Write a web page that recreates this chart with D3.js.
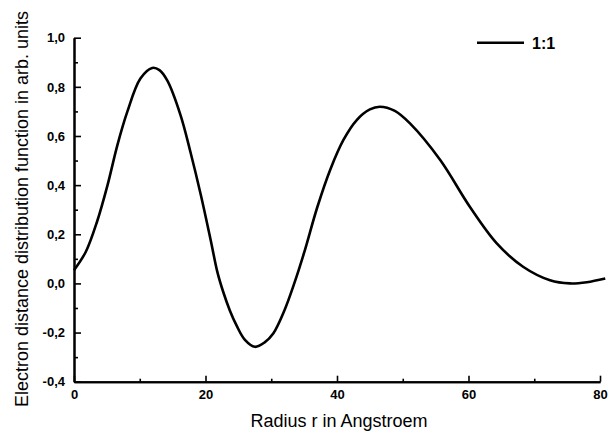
<!DOCTYPE html>
<html>
  <head>
    <meta charset="utf-8">
    <title>Electron distance distribution</title>
    <script src="https://cdn.jsdelivr.net/npm/d3@7"></script>
    <style>
      body { margin: 0; background: #fff; }
      .curve { fill: none; stroke: #000; stroke-width: 2.6px; }
      .axis path, .axis line { stroke: #000; }
      .axis path { stroke-width: 2px; }
      .axis line { stroke-width: 1.6px; }
      .axis text { font-family: 'Liberation Sans', Arial, sans-serif; font-size: 13px; font-weight: bold; fill: #000; }
      .title { font-family: 'Liberation Sans', Arial, sans-serif; font-size: 18px; fill: #000; }
      .legend { font-family: 'Liberation Sans', Arial, sans-serif; font-size: 16px; font-weight: bold; fill: #000; }
    </style>
  </head>
  <body>
    <script>

      // curve: radius (Angstroem) and value (arb. units)
      var radius = [0, 1.8, 3.5, 5.1, 6.6, 8.1, 10.1, 11.9, 13.0, 14.2, 16.2, 17.7, 19.3, 20.8, 21.8, 22.7, 23.7, 24.7, 26, 27.5,
                    29, 30.3, 32.0, 33.5, 35, 37, 39, 41, 43, 45, 46.5, 48.8, 51.1, 55.7,
                    60.2, 64.3, 68.3, 72.4, 75.4, 78, 80.8];
      var values = [0.054, 0.129, 0.251, 0.40, 0.563, 0.698, 0.834, 0.877, 0.868, 0.825, 0.685, 0.536, 0.359, 0.175, 0.047, -0.035, -0.11, -0.17, -0.23, -0.258,
                    -0.24, -0.204, -0.11, 0.0, 0.125, 0.31, 0.465, 0.585, 0.665, 0.708, 0.719, 0.702, 0.651, 0.502,
                    0.312, 0.163, 0.068, 0.013, 0.0, 0.005, 0.02];

      var xTicks = [0, 20, 40, 60, 80];
      var xMinor = [10, 30, 50, 70];
      var yTicks = [-0.4, -0.2, 0.0, 0.2, 0.4, 0.6, 0.8, 1.0];
      var yMinor = [-0.3, -0.1, 0.1, 0.3, 0.5, 0.7, 0.9];

      var seriesName = "1:1";
      var xTitle = "Radius r in Angstroem";
      var yTitle = "Electron distance distribution function in arb. units";

      var width = 610, height = 432;
      var plotLeft = 74, plotRight = 600, plotTop = 37.7, plotBottom = 381.7;

      var svg = d3.select("body").append("svg")
        .attr("width", width)
        .attr("height", height);

      var xScale = d3.scaleLinear().domain([0, 80]).range([plotLeft, plotRight]);
      var yScale = d3.scaleLinear().domain([-0.4, 1.0]).range([plotBottom, plotTop]);

      // comma as decimal sign, plain hyphen for minus
      var fmt = d3.formatLocale({ decimal: ",", thousands: ".", grouping: [3], currency: ["", ""], minus: "-" })
        .format(".1f");

      // minor ticks first, no labels
      svg.append("g")
        .attr("class", "axis")
        .attr("transform", "translate(0," + plotBottom + ")")
        .call(d3.axisBottom(xScale).tickValues(xMinor).tickSizeInner(-3).tickSizeOuter(0).tickFormat(""));

      svg.append("g")
        .attr("class", "axis")
        .attr("transform", "translate(" + plotLeft + ",0)")
        .call(d3.axisLeft(yScale).tickValues(yMinor).tickSizeInner(-4).tickSizeOuter(0).tickFormat(""));

      svg.append("g")
        .attr("class", "axis")
        .attr("transform", "translate(0," + plotBottom + ")")
        .call(d3.axisBottom(xScale).tickValues(xTicks).tickSizeInner(-6).tickSizeOuter(0).tickPadding(8)
          .tickFormat(d3.format("d")));

      svg.append("g")
        .attr("class", "axis")
        .attr("transform", "translate(" + plotLeft + ",0)")
        .call(d3.axisLeft(yScale).tickValues(yTicks).tickSizeInner(-7).tickSizeOuter(0).tickPadding(9)
          .tickFormat(fmt));

      // the curve
      var line = d3.line()
        .x(function(d, i) { return xScale(radius[i]); })
        .y(function(d) { return yScale(d); })
        .curve(d3.curveCatmullRom.alpha(0.5));

      svg.append("path")
        .datum(values)
        .attr("class", "curve")
        .attr("d", line);

      // legend
      svg.append("line")
        .attr("x1", 477).attr("x2", 524)
        .attr("y1", 42.7).attr("y2", 42.7)
        .attr("stroke", "#000")
        .attr("stroke-width", 2.6);
      svg.append("text")
        .attr("class", "legend")
        .attr("x", 532)
        .attr("y", 48.5)
        .text(seriesName);

      // axis titles
      svg.append("text")
        .attr("class", "title")
        .attr("text-anchor", "middle")
        .attr("x", 339)
        .attr("y", 427)
        .text(xTitle);

      svg.append("text")
        .attr("class", "title")
        .attr("text-anchor", "middle")
        .attr("transform", "rotate(-90)")
        .attr("x", -209)
        .attr("y", 28)
        .text(yTitle);

    </script>
  </body>
</html>
